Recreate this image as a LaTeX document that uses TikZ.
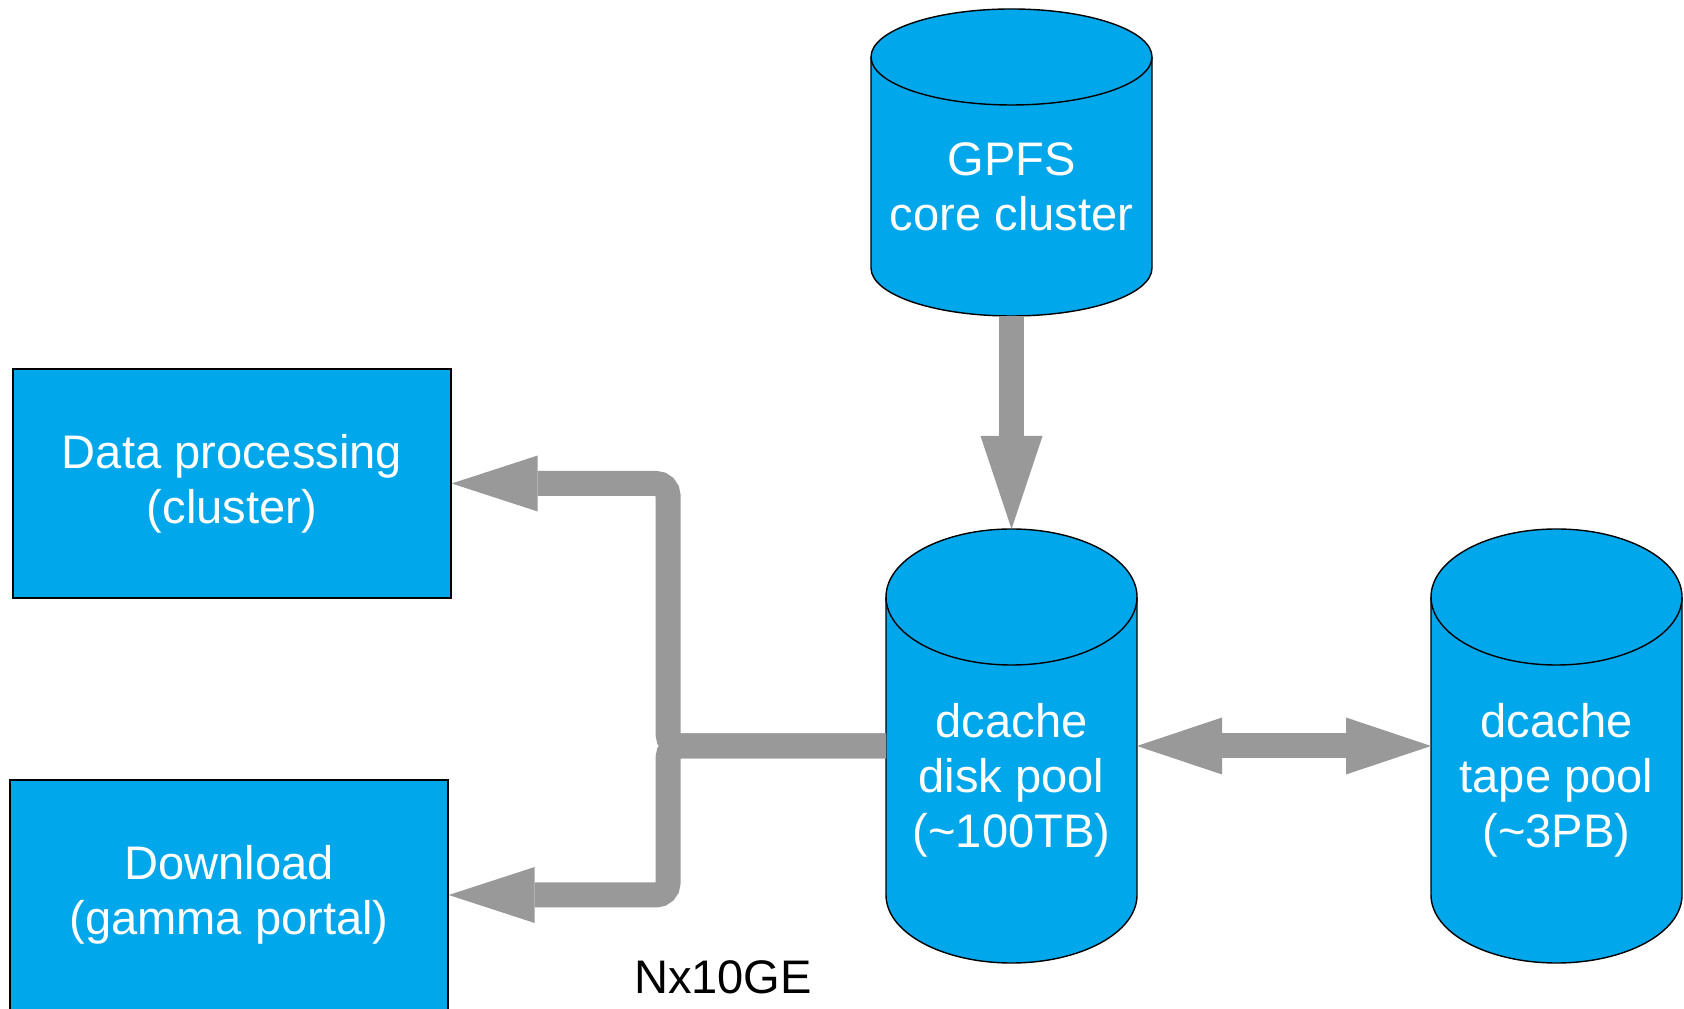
\documentclass[tikz,border=0pt]{standalone}
\usepackage{fontspec}
\setmainfont{Liberation Sans}
\usepackage{xcolor}
\usetikzlibrary{arrows.meta, positioning, calc, backgrounds}
\definecolor{poolblue}{RGB}{0,167,234}
\definecolor{pipegray}{RGB}{153,153,153}

\begin{document}
\begin{tikzpicture}[
    store/.style={rectangle, inner sep=0pt, outer sep=0pt, align=center, text=white, font=\fontsize{13.4}{15.6}\selectfont},
    box/.style={rectangle, draw, fill=poolblue, line width=0.4pt, align=center, text=white, minimum width=4.38cm, minimum height=2.29cm, font=\fontsize{13.4}{15.6}\selectfont},
    pipe/.style={line width=0.25cm, draw=pipegray, rounded corners=0.12cm},
    head/.style={-{Triangle[length=0.86cm, width=0.56cm, line width=0pt]}},
    both/.style={{Triangle[length=0.85cm, width=0.57cm, line width=0pt]}-{Triangle[length=0.85cm, width=0.57cm, line width=0pt]}}
]
\useasboundingbox (0,0) rectangle (16.84,10.08);

% cylinder bodies (top cap is drawn around them)
\node[store, minimum width=2.81cm, minimum height=2.59cm] (gpfs) at (10.115,8.215) {GPFS\\core cluster};
\node[store, minimum width=2.51cm, minimum height=3.66cm] (disk) at (10.115,2.28) {dcache\\disk pool\\(\textasciitilde100TB)};
\node[store, minimum width=2.51cm, minimum height=3.66cm] (tape) at (15.565,2.28) {dcache\\tape pool\\(\textasciitilde3PB)};
\node[box] (dproc) at (2.32,5.245) {Data processing\\(cluster)};
\node[box, minimum height=2.30cm] (dl) at (2.29,1.13) {Download\\(gamma portal)};
\node[font=\fontsize{13.4}{15.6}\selectfont] (nlabel) at (7.23,0.31) {Nx10GE};
\coordinate (junc) at (6.68,2.62);

\begin{scope}[on background layer]
\foreach \n/\rx/\ry in {gpfs/1.405/0.48, disk/1.255/0.68, tape/1.255/0.68} {
    \filldraw[fill=poolblue, line width=0.4pt] (\n.north west) -- ([yshift=\ry cm]\n.south west)
        arc[start angle=180, end angle=360, x radius=\rx cm, y radius=\ry cm] -- (\n.north east)
        arc[start angle=0, end angle=180, x radius=\rx cm, y radius=\ry cm] -- cycle;
    \draw[line width=0.4pt] (\n.north west) arc[start angle=180, end angle=360, x radius=\rx cm, y radius=\ry cm];
}
\end{scope}

\draw[pipe, -{Triangle[length=0.93cm, width=0.62cm, line width=0pt]}] (gpfs.south) -- ([yshift=0.68cm]disk.north);
\draw[pipe, both] ([yshift=0.34cm]disk.east) -- ([yshift=0.34cm]tape.west);
\draw[pipe, head] ([yshift=0.34cm]disk.west) -- (junc) |- (dproc.east);
\draw[pipe, head] ([yshift=0.34cm]disk.west) -- (junc) |- (dl.east);

\end{tikzpicture}
\end{document}
